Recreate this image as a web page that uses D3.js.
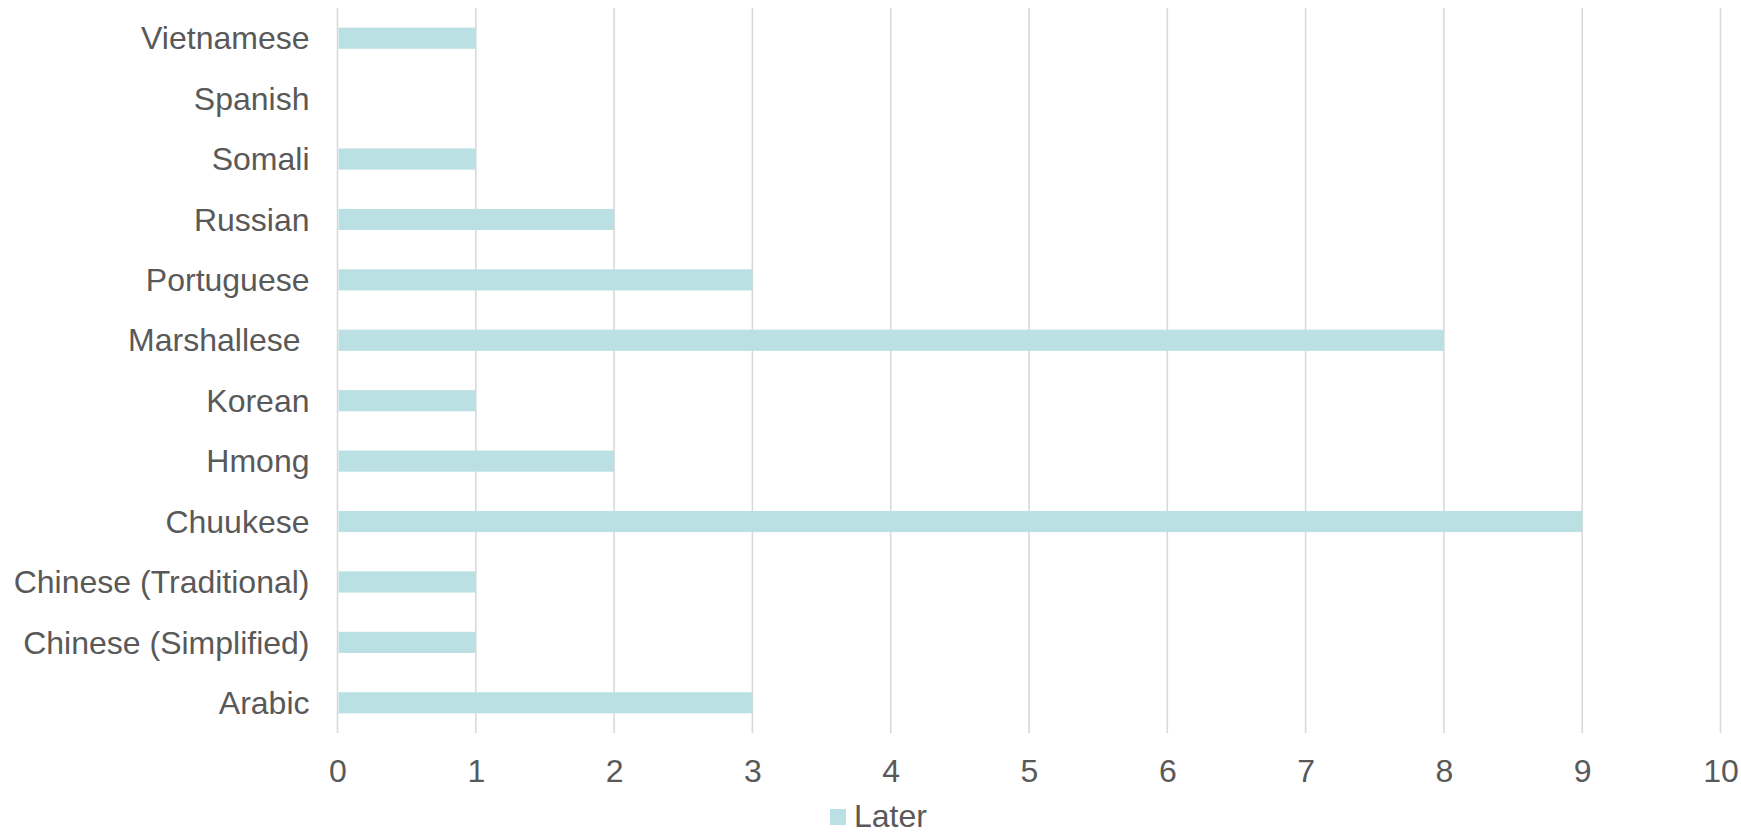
<!DOCTYPE html>
<html>
<head>
<meta charset="utf-8">
<script src="https://cdn.jsdelivr.net/npm/d3@7"></script>
<style>
  html, body { margin: 0; padding: 0; background: #ffffff; }
  svg { display: block; }
  text { font-family: "Liberation Sans", Arial, sans-serif; fill: #595959; }
</style>
</head>
<body>
<svg id="chart" width="1741" height="833"></svg>
<script>
// Categories listed top to bottom
const categories = ["Vietnamese", "Spanish", "Somali", "Russian", "Portuguese", "Marshallese ",
  "Korean", "Hmong", "Chuukese", "Chinese (Traditional)", "Chinese (Simplified)", "Arabic"];
const laterValues = [1, 0, 1, 2, 3, 8, 1, 2, 9, 1, 1, 3];
const xTicks = [0, 1, 2, 3, 4, 5, 6, 7, 8, 9, 10];
const seriesName = "Later";

const svg = d3.select("#chart");
const plotLeft = 337.5, plotRight = 1720.5, plotTop = 8, plotBottom = 733;
const barColor = "#bae0e3";
const gridColor = "#d9d9d9";

const x = d3.scaleLinear().domain([0, 10]).range([plotLeft, plotRight]);
const y = d3.scaleBand().domain(categories).range([plotTop, plotBottom]).paddingInner(0.65).paddingOuter(0.325);

// gridlines
svg.append("g").selectAll("line").data(xTicks).join("line")
  .attr("x1", d => x(d)).attr("x2", d => x(d))
  .attr("y1", plotTop).attr("y2", plotBottom)
  .attr("stroke", gridColor).attr("stroke-width", 1.6);

// bars
svg.append("g").selectAll("rect").data(categories).join("rect")
  .attr("x", x(0) + 1)
  .attr("y", d => y(d))
  .attr("width", (d, i) => Math.max(0, x(laterValues[i]) - x(0) - 1))
  .attr("height", y.bandwidth())
  .attr("fill", barColor);

// x axis labels
const xAxis = d3.axisBottom(x).tickValues(xTicks).tickSize(0).tickPadding(0);
const gx = svg.append("g").attr("transform", `translate(0,${plotBottom})`).call(xAxis);
gx.select(".domain").remove();
gx.selectAll("text")
  .attr("y", 49).attr("dy", null)
  .style("font-size", "32px")
  .style("font-family", "'Liberation Sans', Arial, sans-serif")
  .attr("fill", "#595959");

// y axis labels
const yAxis = d3.axisLeft(y).tickSize(0).tickPadding(28);
const gy = svg.append("g").attr("transform", `translate(${plotLeft},0)`).call(yAxis);
gy.select(".domain").remove();
gy.selectAll("text")
  .attr("dy", "0.35em")
  .style("white-space", "pre")
  .style("font-size", "32px")
  .style("font-family", "'Liberation Sans', Arial, sans-serif")
  .attr("fill", "#595959");

// legend
const lg = svg.append("g");
lg.append("rect").attr("x", 830).attr("y", 809).attr("width", 16).attr("height", 16).attr("fill", barColor);
lg.append("text").attr("x", 854).attr("y", 827).style("font-size", "32px").text(seriesName);
</script>
</body>
</html>
